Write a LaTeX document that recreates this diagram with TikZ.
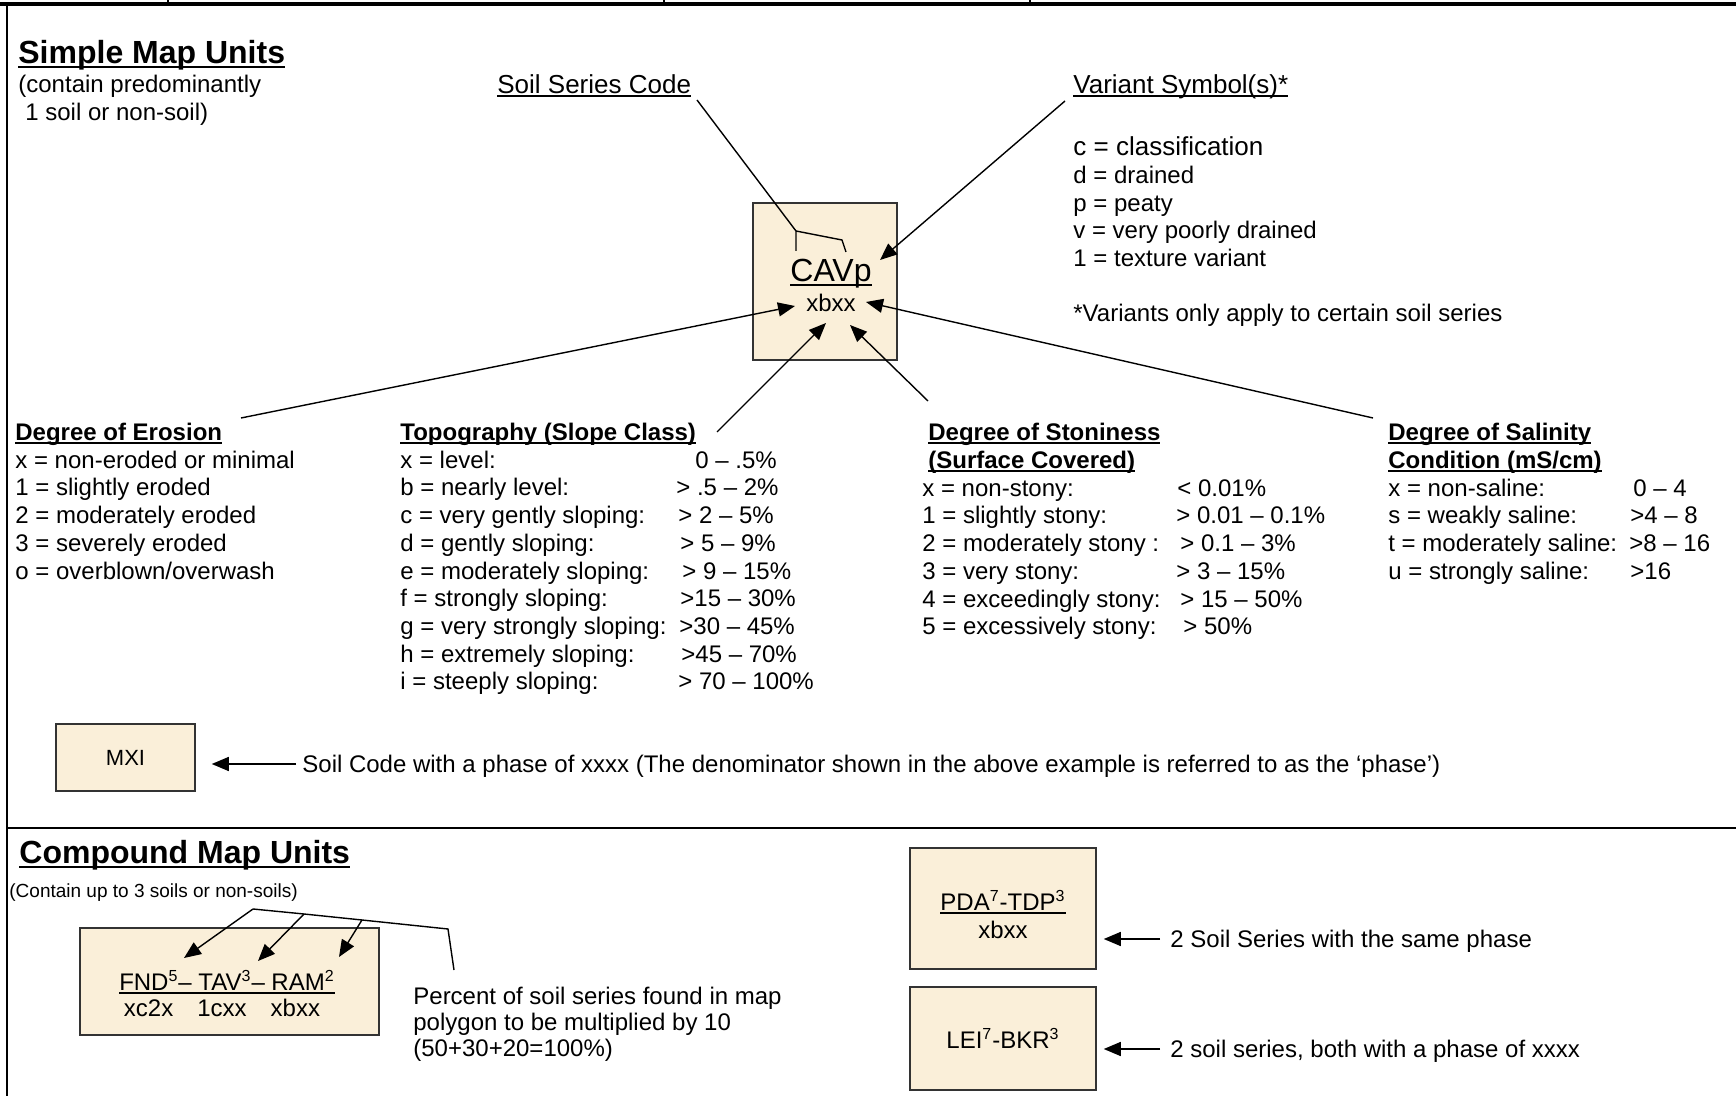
\documentclass[tikz,border=0pt]{standalone}
\usepackage{fontspec}
\setmainfont{Liberation Sans}
\usetikzlibrary{arrows.meta}

\definecolor{parchment}{RGB}{250,239,217}
\newcommand{\undl}[1]{\setbox0=\hbox{#1}\rlap{\rule[-0.14em]{\wd0}{0.07em}}\box0}

\tikzset{
  txt/.style={inner sep=0pt, anchor=west, text height=8.6pt, text depth=0pt, font=\fontsize{12}{14}\selectfont},
  bigtxt/.style={txt, text height=9.4pt, font=\fontsize{13}{15}\selectfont},
  head/.style={txt, font=\fontsize{12}{14}\selectfont\bfseries},
  bigtitle/.style={txt, text height=11.5pt, font=\fontsize{16}{19}\selectfont\bfseries},
  code/.style={draw=black!80, line width=0.75pt, fill=parchment, font=\fontsize{12}{14}\selectfont},
  link/.style={line width=0.7pt},
  pointer/.style={link, -{Triangle[length=8.5pt,width=7pt]}},
}

\begin{document}
\begin{tikzpicture}[x=0.5pt, y=-0.5pt]
  \useasboundingbox (0,0) rectangle (1736,1096);

  % Frame
  \draw[line width=1.6pt] (0,4) -- (1736,4);
  \draw[line width=0.8pt] (7,4) -- (7,1096);
  \draw[line width=1.2pt] (7,828) -- (1736,828);
  \draw[line width=0.8pt] (168,0) -- (168,4) (664,0) -- (664,4) (1030,0) -- (1030,4);

  % Simple map units
  \node[bigtitle] (simple) at (18,52) {\undl{Simple Map Units}};
  \node[txt] (simple-1) at (18,84) {(contain predominantly};
  \node[txt] (simple-2) at (25,112) {1 soil or non-soil)};

  \node[bigtxt] (series) at (497,84) {\undl{Soil Series Code}};
  \node[bigtxt] (variant) at (1073,84) {\undl{Variant Symbol(s)*}};
  \node[bigtxt] (var-c) at (1073,146) {c = classification};
  \node[txt] (var-d) at (1073,175) {d = drained};
  \node[txt] (var-p) at (1073,203) {p = peaty};
  \node[txt] (var-v) at (1073,230) {v = very poorly drained};
  \node[txt] (var-1) at (1073,258) {1 = texture variant};
  \node[txt] (var-note) at (1073,313) {*Variants only apply to certain soil series};

  % Example code box
  \node[code, minimum width=72pt, minimum height=78.5pt] (cavp) at (825,281.5) {};
  \node[txt, anchor=center, text height=11.5pt, font=\fontsize{16}{19}\selectfont] (cavp-code) at (831,270) {\undl{CAVp}};
  \node[txt, anchor=center] (cavp-phase) at (831,303) {xbxx};

  % Bracket and pointers
  \coordinate (seriesEnd) at (697,100);
  \coordinate (brL) at (796,251);
  \coordinate (brLt) at (796,231);
  \coordinate (brRt) at (842,240);
  \coordinate (brR) at (846,252);
  \draw[link] (seriesEnd) -- (brLt);
  \draw[link] (brL) -- (brLt) -- (brRt) -- (brR);
  \coordinate (varEnd) at (1065,101);
  \coordinate (varTip) at (880,260);
  \draw[pointer] (varEnd) -- (varTip);

  \coordinate (eroEnd) at (241,418);
  \coordinate (eroTip) at (795,306);
  \coordinate (topoEnd) at (717,432);
  \coordinate (topoTip) at (826,323);
  \coordinate (stoneEnd) at (928,401);
  \coordinate (stoneTip) at (850,325);
  \coordinate (salEnd) at (1373,418);
  \coordinate (salTip) at (866,302);
  \draw[pointer] (eroEnd) -- (eroTip);
  \draw[pointer] (topoEnd) -- (topoTip);
  \draw[pointer] (stoneEnd) -- (stoneTip);
  \draw[pointer] (salEnd) -- (salTip);

  % Degree of erosion
  \node[head] (ero) at (15,432) {\undl{Degree of Erosion}};
  \foreach \lab [count=\i] in {x = non-eroded or minimal, 1 = slightly eroded,
      2 = moderately eroded, 3 = severely eroded, o = overblown/overwash}
    \node[txt] (ero-\i) at (15,432+27.7*\i) {\lab};

  % Topography
  \node[head] (topo) at (400,432) {\undl{Topography (Slope Class)}};
  \foreach \lab/\val/\vx [count=\i] in {x = level:/0 – .5\%/695,
      b = nearly level:/> .5 – 2\%/676, c = very gently sloping:/> 2 – 5\%/678,
      d = gently sloping:/> 5 – 9\%/680, e = moderately sloping:/> 9 – 15\%/682,
      f = strongly sloping:/>15 – 30\%/680, g = very strongly sloping:/>30 – 45\%/679,
      h = extremely sloping:/>45 – 70\%/681, i = steeply sloping:/> 70 – 100\%/678}
  {
    \node[txt] (topo-\i) at (400,432+27.7*\i) {\lab};
    \node[txt] (topoval-\i) at (\vx,432+27.7*\i) {\val};
  }

  % Stoniness
  \node[head] (stone) at (928,432) {\undl{Degree of Stoniness}};
  \node[head] (stone-2) at (928,460) {\undl{(Surface Covered)}};
  \foreach \lab/\val/\vx [count=\i] in {x = non-stony:/< 0.01\%/1177,
      1 = slightly stony:/> 0.01 – 0.1\%/1176, 2 = moderately stony :/> 0.1 – 3\%/1180,
      3 = very stony:/> 3 – 15\%/1176, 4 = exceedingly stony:/> 15 – 50\%/1180,
      5 = excessively stony:/> 50\%/1183}
  {
    \node[txt] (stone-\i) at (922,460+27.7*\i) {\lab};
    \node[txt] (stoneval-\i) at (\vx,460+27.7*\i) {\val};
  }

  % Salinity
  \node[head] (sal) at (1388,432) {\undl{Degree of Salinity}};
  \node[head] (sal-2) at (1388,460) {\undl{Condition (mS/cm)}};
  \foreach \lab/\val/\vx [count=\i] in {x = non-saline:/0 – 4/1633,
      s = weakly saline:/>4 – 8/1630, t = moderately saline:/>8 – 16/1629,
      u = strongly saline:/>16/1630}
  {
    \node[txt] (sal-\i) at (1388,460+27.7*\i) {\lab};
    \node[txt] (salval-\i) at (\vx,460+27.7*\i) {\val};
  }

  % Soil code without phase
  \node[code, minimum width=69.5pt, minimum height=33.5pt, font=\fontsize{11}{13}\selectfont] (mxi) at (125.5,757.5) {MXI};
  \node[txt] (mxi-note) at (302,764) {Soil Code with a phase of xxxx (The denominator shown in the above example is referred to as the ‘phase’)};
  \draw[pointer] ([xshift=-3pt]mxi-note.west) -- ([xshift=8pt]mxi.east |- mxi-note.west);

  % Compound map units
  \node[bigtitle] (compound) at (19,852) {\undl{Compound Map Units}};
  \node[txt, text height=6.8pt, font=\fontsize{9.5}{11}\selectfont] (compound-1) at (9,891) {(Contain up to 3 soils or non-soils)};

  \node[code, minimum width=149.5pt, minimum height=53.5pt] (fnd) at (229.5,981.5) {};
  \node[txt, anchor=center] (fnd-code) at (227,982) {\undl{FND\textsuperscript{5}– TAV\textsuperscript{3}– RAM\textsuperscript{2}}};
  \node[txt, anchor=center] (fnd-phase) at (222,1008) {xc2x\quad 1cxx\quad xbxx};

  \coordinate (b0) at (253,909);
  \coordinate (b1) at (304,914);
  \coordinate (b2) at (362,920);
  \coordinate (b3) at (448,929);
  \coordinate (b4) at (454,970);
  \coordinate (tipFND) at (184,958);
  \coordinate (tipTAV) at (258,961);
  \coordinate (tipRAM) at (339,957);
  \draw[link] (b0) -- (b1) -- (b2) -- (b3) -- (b4);
  \draw[pointer] (b0) -- (tipFND);
  \draw[pointer] (b1) -- (tipTAV);
  \draw[pointer] (b2) -- (tipRAM);

  \node[txt] (pct-1) at (413,996) {Percent of soil series found in map};
  \node[txt] (pct-2) at (413,1022) {polygon to be multiplied by 10};
  \node[txt] (pct-3) at (413,1048) {(50+30+20=100\%)};

  % Two-series examples
  \node[code, minimum width=93pt, minimum height=60.5pt] (pda) at (1003,908.5) {};
  \node[txt, anchor=center] (pda-code) at (1003,902) {\undl{PDA\textsuperscript{7}-TDP\textsuperscript{3}}};
  \node[txt, anchor=center] (pda-phase) at (1003,930) {xbxx};
  \node[txt] (pda-note) at (1170,939) {2 Soil Series with the same phase};
  \draw[pointer] ([xshift=-5pt]pda-note.west) -- ([xshift=3.5pt]pda.east |- pda-note.west);

  \node[code, minimum width=93pt, minimum height=51.5pt] (lei) at (1003,1038.5) {LEI\textsuperscript{7}-BKR\textsuperscript{3}};
  \node[txt] (lei-note) at (1170,1049) {2 soil series, both with a phase of xxxx};
  \draw[pointer] ([xshift=-5pt]lei-note.west) -- ([xshift=3.5pt]lei.east |- lei-note.west);
\end{tikzpicture}
\end{document}
